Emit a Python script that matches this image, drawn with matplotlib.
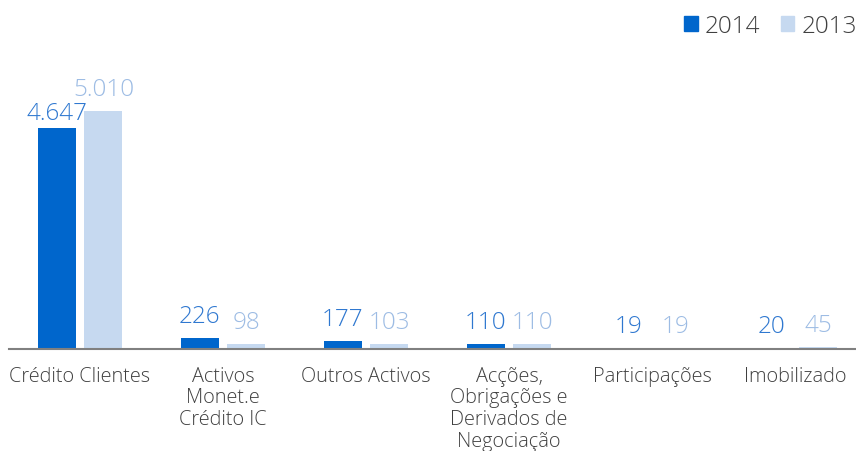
import matplotlib
matplotlib.use("Agg")
import matplotlib.pyplot as plt
from matplotlib.patches import Patch
import numpy as np

categories = ["Crédito Clientes", "Activos\nMonet.e\nCrédito IC", "Outros Activos",
              "Acções,\nObrigações e\nDerivados de\nNegociação", "Participações", "Imobilizado"]
v2014 = [4647, 226, 177, 110, 19, 20]
v2013 = [5010, 98, 103, 110, 19, 45]
lab2014 = ["4.647", "226", "177", "110", "19", "20"]
lab2013 = ["5.010", "98", "103", "110", "19", "45"]

C14 = "#0066CC"
C13 = "#C6D9F0"
T14 = "#2F78D0"
T13 = "#9DBCE4"
TXT = "#404040"

plt.rcParams['font.family'] = ['Open Sans', 'DejaVu Sans']

W, H = 856, 452
fig = plt.figure(figsize=(W / 100, H / 100), dpi=100)
ax = fig.add_axes([8.5 / W, 102 / H, 858 / W, 300 / H])

x = np.arange(len(categories))
bw = 0.266
off = 0.164
b1 = ax.bar(x - off, v2014, bw, color=C14)
b2 = ax.bar(x + off, v2013, bw, color=C13)

ax.set_xlim(-0.5, len(categories) - 0.5)
ax.set_ylim(0, 5010 * 300 / 238)

FS = 17.5
for i, (r, t) in enumerate(zip(b1, lab2014)):
    dy = 3 if i == 0 else 10
    ax.annotate(t, (r.get_x() + r.get_width() / 2, r.get_height()), xytext=(0, dy),
                textcoords="offset pixels", ha="center", va="bottom", fontsize=FS,
                color=T14, fontweight="light")
for r, t in zip(b2, lab2013):
    ax.annotate(t, (r.get_x() + r.get_width() / 2, r.get_height()), xytext=(0, 10),
                textcoords="offset pixels", ha="center", va="bottom", fontsize=FS,
                color=T13, fontweight="light")

for s in ["top", "right", "left"]:
    ax.spines[s].set_visible(False)
ax.spines["bottom"].set_color("#808080")
ax.spines["bottom"].set_linewidth(1.5)
ax.set_yticks([])
ax.set_xticks(x)
ax.set_xticklabels(categories, fontsize=14.3, color=TXT, fontweight="light", linespacing=1.12)
ax.tick_params(axis="x", length=0, pad=12)

handles = [Patch(color=C14), Patch(color=C13)]
fig.legend(handles, ["2014", "2013"], loc="upper right", bbox_to_anchor=(1.027, 1.015),
           ncol=2, frameon=False, handlelength=0.55, handleheight=0.55,
           handletextpad=0.3, columnspacing=0.85, labelcolor=TXT,
           prop={'weight': 'light', 'size': FS})

fig.savefig("out.png", dpi=100)
